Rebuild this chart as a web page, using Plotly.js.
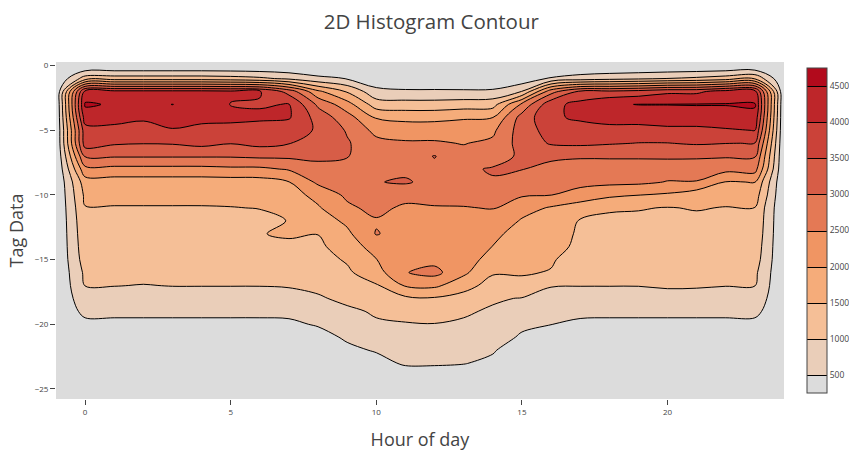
<!DOCTYPE html>
<html><head><meta charset="utf-8">
<script src="https://cdn.plot.ly/plotly-3.0.1.min.js"></script>
<style>html,body{margin:0;padding:0;background:#fff}#chart{width:849px;height:451px}</style>
</head><body><div id="chart"></div>
<script>
// Hour of day (x bins) and Tag Data (y bins)
const hours = [0,1,2,3,4,5,6,7,8,9,10,11,12,13,14,15,16,17,18,19,20,21,22,23];
const tagData = [0,-1,-2,-3,-4,-5,-6,-7,-8,-9,-10,-11,-12,-13,-14,-15,-16,-17,-18,-19,-20,-21,-22,-23,-24,-25];

// counts per hour, one value per Tag Data bin (top to bottom)
const h00 = [0,1250,4150,4560,4250,3800,3750,3050,2350,1770,1600,1480,1400,1350,1300,1230,1100,1010,850,650,350,100,0,0,0,0];
const h01 = [0,1250,4150,4450,4250,3800,3560,3050,2350,1770,1600,1480,1400,1350,1300,1230,1100,1010,850,650,350,100,0,0,0,0];
const h02 = [0,1250,4150,4400,4100,3750,3520,3050,2350,1770,1600,1480,1400,1350,1300,1230,1100,990,850,650,350,100,0,0,0,0];
const h03 = [0,1250,4150,4505,4300,3950,3540,3050,2350,1770,1600,1480,1400,1350,1300,1230,1100,1010,850,650,350,100,0,0,0,0];
const h04 = [0,1250,4150,4350,4200,3800,3650,3050,2350,1770,1600,1480,1400,1350,1300,1230,1100,1010,850,650,350,100,0,0,0,0];
const h05 = [0,1200,4100,3980,4150,3800,3520,3050,2400,1780,1600,1490,1400,1350,1300,1230,1100,1010,850,650,350,100,0,0,0,0];
const h06 = [0,1100,4050,3950,4100,3750,3650,3100,2400,1800,1620,1510,1420,1480,1300,1230,1100,1010,850,650,350,100,0,0,0,0];
const h07 = [0,900,3300,4020,4050,3700,3520,3100,2550,1990,1800,1650,1510,1560,1400,1300,1200,1030,860,660,380,100,0,0,0,0];
const h08 = [0,620,2100,2900,3300,3450,3300,3100,2850,2600,2150,1950,1750,1510,1400,1330,1250,1100,950,720,560,250,0,0,0,0];
const h09 = [0,480,1450,2200,2700,2950,3050,3020,2850,2750,2600,2400,2100,1900,1750,1550,1420,1300,1100,920,780,600,350,0,0,0];
const h10 = [0,150,650,1250,1950,2350,2650,2800,2850,2980,2800,2650,2450,2530,2200,1990,1800,1450,1300,1050,950,850,560,260,0,0];
const h11 = [0,0,590,1200,1850,2300,2550,2750,2900,3050,2700,2400,2350,2300,2250,2300,2480,2050,1400,1100,980,900,780,600,100,0];
const h12 = [0,0,590,1200,1850,2300,2550,3020,2900,2850,2750,2450,2350,2300,2250,2350,2650,2100,1450,1150,990,900,780,600,100,0];
const h13 = [0,0,580,1250,1950,2250,2480,2650,2900,2800,2650,2480,2350,2300,2250,2300,2100,1700,1300,1050,950,880,760,540,80,0];
const h14 = [0,0,600,1300,1990,2400,2600,2750,3050,2950,2750,2520,2380,2150,1990,1750,1550,1300,1050,950,880,780,580,320,0,0];
const h15 = [0,150,1010,2600,3200,3250,3200,3100,3020,2650,2550,2200,1950,1750,1650,1600,1550,1350,980,800,620,420,0,0,0,0];
const h16 = [0,560,2800,3850,3900,3700,3550,3100,2850,2650,2510,1950,1650,1600,1580,1560,1470,1020,870,680,510,200,0,0,0,0];
const h17 = [0,720,3600,4150,4100,3750,3600,3050,2800,2650,2300,1750,1480,1470,1450,1230,1100,1010,850,650,380,120,0,0,0,0];
const h18 = [0,830,3600,4450,4250,3800,3540,3080,2700,2620,2100,1560,1400,1350,1300,1230,1100,1010,850,650,350,100,0,0,0,0];
const h19 = [0,910,3700,4510,4250,3800,3490,3080,2700,2600,2010,1530,1400,1350,1300,1230,1100,1010,850,650,350,100,0,0,0,0];
const h20 = [0,1010,3900,4510,4300,3870,3490,3090,2700,2480,1930,1480,1400,1350,1300,1230,1100,1040,880,650,350,100,0,0,0,0];
const h21 = [0,1100,3900,4520,4300,3870,3550,3080,2700,2480,1700,1530,1400,1350,1300,1230,1100,1040,850,650,350,100,0,0,0,0];
const h22 = [0,1250,4200,4520,4300,3950,3510,3050,2650,1980,1700,1480,1400,1350,1300,1230,1100,1010,850,650,350,100,0,0,0,0];
const h23 = [0,1430,4200,4550,4350,4010,3490,3050,2700,2010,1750,1490,1420,1370,1300,1230,1100,1010,850,650,350,100,0,0,0,0];

const countsByHour = [h00,h01,h02,h03,h04,h05,h06,h07,h08,h09,h10,h11,h12,h13,h14,h15,h16,h17,h18,h19,h20,h21,h22,h23];
const colorbarTicks = [500,1000,1500,2000,2500,3000,3500,4000,4500];

// table for the library: empty (zero) bins on each side, as a histogram contour pads them
const xGrid = [hours[0] - 1].concat(hours, [hours[hours.length - 1] + 1]);
const zGrid = tagData.map((_, r) => [0].concat(countsByHour.map(col => col[r]), [0]));

const trace = {
  type: 'contour',
  x: xGrid,
  y: tagData,
  z: zGrid,
  autocontour: false,
  contours: {start: 500, end: 4500, size: 500, coloring: 'fill'},
  colorscale: [[0,'rgb(220,220,220)'],[0.2,'rgb(245,195,157)'],[0.4,'rgb(245,160,105)'],[1,'rgb(178,10,28)']],
  line: {color: '#000', width: 1, smoothing: 1},
  colorbar: {
    thickness: 20, x: 1.02, xanchor: 'left', xpad: 8, ypad: 6, len: 1,
    tickvals: colorbarTicks, ticks: '', tickfont: {size: 8.5, color: '#444'},
    outlinecolor: '#444', outlinewidth: 1
  },
  hoverinfo: 'skip'
};

const layout = {
  width: 849, height: 451,
  margin: {l: 56, r: 65, t: 62, b: 52, pad: 0, autoexpand: false},
  paper_bgcolor: '#fff',
  plot_bgcolor: 'rgb(220,220,220)',
  font: {family: '"Open Sans", verdana, arial, sans-serif', color: '#444'},
  title: {text: '2D Histogram Contour', font: {size: 20.5, color: '#444'}, x: 0.508, xanchor: 'center', y: 0.951, yanchor: 'middle'},
  xaxis: {
    title: {text: 'Hour of day', font: {size: 18, color: '#444'}},
    range: [-1, 24], tick0: 0, dtick: 5, showgrid: false, zeroline: false,
    ticks: 'outside', ticklen: 5, tickcolor: '#444', tickfont: {size: 8, color: '#444'}
  },
  yaxis: {
    title: {text: 'Tag Data', font: {size: 18, color: '#444'}, standoff: 6},
    automargin: true,
    range: [-25.78, 0.28], tick0: 0, dtick: 5, showgrid: false, zeroline: false,
    ticks: 'outside', ticklen: 5, tickcolor: '#444', tickfont: {size: 8, color: '#444'}
  },
  showlegend: false
};

Plotly.newPlot('chart', [trace], layout, {displayModeBar: false, staticPlot: true});
</script>
</body></html>
